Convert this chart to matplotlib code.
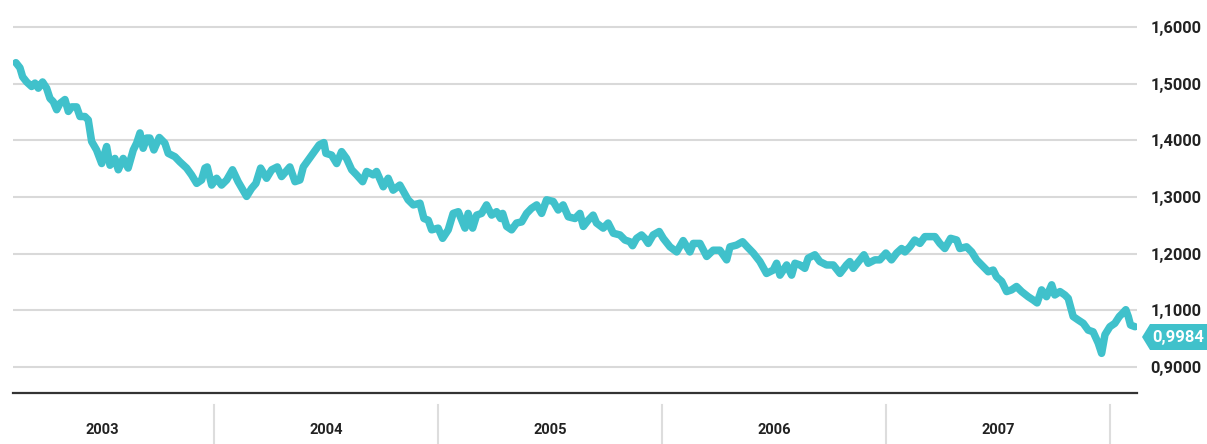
import matplotlib
matplotlib.use("Agg")
import matplotlib.pyplot as plt
from matplotlib.patches import Polygon
import numpy as np

# decimal year offsets from 2003 and rate values
t = [0.116, 0.134, 0.146, 0.164, 0.186, 0.201, 0.216, 0.235, 0.253, 0.268,
     0.283, 0.298, 0.3125, 0.335, 0.350, 0.365, 0.387, 0.402, 0.424, 0.439,
     0.454, 0.476, 0.499, 0.521, 0.536, 0.558, 0.573, 0.595, 0.617, 0.640,
     0.655, 0.670, 0.684, 0.700, 0.714, 0.732, 0.756, 0.781, 0.796, 0.826,
     0.848, 0.878, 0.900, 0.923, 0.945, 0.960, 0.970, 0.990, 1.012, 1.034,
     1.057, 1.083, 1.108, 1.146, 1.168, 1.1875, 1.2085, 1.235, 1.258, 1.283,
     1.302, 1.339, 1.362, 1.384, 1.399, 1.421, 1.443, 1.470, 1.491, 1.500,
     1.525, 1.548, 1.570, 1.592, 1.615, 1.637, 1.664, 1.682, 1.711, 1.726,
     1.756, 1.778, 1.800, 1.830, 1.867, 1.890, 1.920, 1.9375, 1.957, 1.972,
     2.001, 2.021, 2.046, 2.068, 2.091, 2.121, 2.135, 2.155, 2.173, 2.195,
     2.217, 2.240, 2.262, 2.280, 2.289, 2.307, 2.329, 2.351, 2.374, 2.396,
     2.418, 2.441, 2.463, 2.485, 2.515, 2.537, 2.559, 2.582, 2.612, 2.634,
     2.649, 2.671, 2.693, 2.708, 2.738, 2.760, 2.783, 2.8125, 2.835, 2.857,
     2.869, 2.887, 2.909, 2.924, 2.939, 2.961, 2.988, 3.006, 3.036, 3.066,
     3.095, 3.125, 3.140, 3.170, 3.200, 3.229, 3.259, 3.289, 3.304, 3.333,
     3.360, 3.381, 3.408, 3.4375, 3.467, 3.497, 3.512, 3.527, 3.557, 3.579,
     3.594, 3.616, 3.638, 3.653, 3.683, 3.705, 3.735, 3.765, 3.795, 3.824,
     3.839, 3.854, 3.884, 3.902, 3.921, 3.951, 3.973, 4.000, 4.025, 4.048,
     4.070, 4.085, 4.107, 4.129, 4.152, 4.174, 4.196, 4.219, 4.241, 4.263,
     4.289, 4.316, 4.330, 4.360, 4.383, 4.405, 4.427, 4.457, 4.479, 4.494,
     4.517, 4.539, 4.561, 4.583, 4.606, 4.635, 4.658, 4.675, 4.695, 4.717,
     4.740, 4.754, 4.777, 4.799, 4.814, 4.836, 4.858, 4.881, 4.903, 4.925,
     4.948, 4.963, 4.978, 5.000, 5.022, 5.042, 5.057, 5.071, 5.082, 5.092,
     5.112]
rate = [1.537, 1.528, 1.512, 1.503, 1.495, 1.501, 1.492, 1.503, 1.492, 1.474,
        1.468, 1.454, 1.465, 1.472, 1.451, 1.459, 1.459, 1.442, 1.442, 1.436,
        1.398, 1.383, 1.359, 1.389, 1.356, 1.368, 1.348, 1.368, 1.351, 1.383,
        1.395, 1.413, 1.386, 1.404, 1.404, 1.383, 1.405, 1.395, 1.377, 1.371,
        1.362, 1.351, 1.339, 1.324, 1.330, 1.351, 1.353, 1.321, 1.333, 1.321,
        1.330, 1.348, 1.327, 1.301, 1.315, 1.324, 1.351, 1.333, 1.348, 1.353,
        1.336, 1.353, 1.327, 1.330, 1.353, 1.365, 1.377, 1.392, 1.396, 1.377,
        1.374, 1.359, 1.380, 1.368, 1.348, 1.339, 1.327, 1.345, 1.339, 1.345,
        1.318, 1.333, 1.312, 1.321, 1.295, 1.286, 1.289, 1.262, 1.259, 1.242,
        1.245, 1.227, 1.242, 1.271, 1.274, 1.245, 1.271, 1.245, 1.268, 1.271,
        1.286, 1.268, 1.274, 1.262, 1.271, 1.248, 1.242, 1.254, 1.256, 1.271,
        1.280, 1.286, 1.271, 1.295, 1.292, 1.277, 1.286, 1.265, 1.262, 1.271,
        1.248, 1.259, 1.268, 1.254, 1.245, 1.254, 1.236, 1.233, 1.224, 1.221,
        1.214, 1.227, 1.233, 1.227, 1.218, 1.233, 1.239, 1.227, 1.212, 1.203,
        1.223, 1.203, 1.218, 1.218, 1.195, 1.206, 1.206, 1.189, 1.212, 1.215,
        1.221, 1.212, 1.201, 1.186, 1.165, 1.171, 1.183, 1.162, 1.180, 1.162,
        1.183, 1.180, 1.174, 1.192, 1.198, 1.186, 1.180, 1.180, 1.165, 1.180,
        1.186, 1.174, 1.189, 1.198, 1.183, 1.189, 1.189, 1.201, 1.189, 1.201,
        1.209, 1.203, 1.212, 1.224, 1.218, 1.230, 1.230, 1.230, 1.218, 1.209,
        1.227, 1.224, 1.209, 1.212, 1.203, 1.189, 1.180, 1.168, 1.171, 1.159,
        1.151, 1.133, 1.136, 1.142, 1.133, 1.124, 1.118, 1.113, 1.136, 1.124,
        1.145, 1.127, 1.133, 1.127, 1.121, 1.089, 1.083, 1.077, 1.065, 1.062,
        1.042, 1.024, 1.057, 1.071, 1.077, 1.089, 1.095, 1.101, 1.089, 1.074,
        1.071]
years = ["2003", "2004", "2005", "2006", "2007"]
tick_vals = [1.0, 1.1, 1.2, 1.3, 1.4, 1.5, 1.6]
tick_labels = ["0,9000", "1,1000", "1,2000", "1,3000", "1,4000", "1,5000", "1,6000"]
last_label = "0,9984"

teal = "#40c1cb"
dark = "#222222"
W, H = 1207, 444

fig = plt.figure(figsize=(W / 100, H / 100), dpi=100)
ax = fig.add_axes([13 / W, 1 - 393 / H, (1137 - 13) / W, (393 - 10) / H])

x = 2003 + np.array(t)
ax.plot(x, rate, color=teal, lw=5.4, solid_joinstyle="round",
        solid_capstyle="round", zorder=3)

ax.set_xlim(2003.103, 2008.121)
ax.set_ylim(0.954, 1.630)
ax.set_yticks(tick_vals)
ax.set_yticklabels(tick_labels)
ax.yaxis.tick_right()
ax.tick_params(axis="y", length=0, pad=9.5, labelsize=11.8, labelcolor=dark)
for lab in ax.get_yticklabels():
    lab.set_fontweight("bold")
    lab.set_fontfamily("Roboto")
ax.set_xticks([])
ax.grid(axis="y", color="#d9d9d9", lw=1.5)
ax.set_axisbelow(True)
for s in ["top", "left", "right"]:
    ax.spines[s].set_visible(False)
ax.spines["bottom"].set_color("#333333")
ax.spines["bottom"].set_linewidth(1.6)

# year bands below the axis
trans = ax.get_xaxis_transform()
for i, yr in enumerate(years):
    ax.text(int(yr) + 0.5, -0.097, yr, transform=trans, ha="center", va="center",
            fontsize=10.5, fontweight="bold", family="Roboto", color=dark,
            clip_on=False)
    ax.plot([int(yr) + 1, int(yr) + 1], [-0.031, -0.14], transform=trans,
            color="#dddddd", lw=1.5, clip_on=False)

# last-value badge
by = 1 - 337 / H
bh = 13 / H
poly = Polygon([[1142 / W, by], [1150 / W, by + bh], [1.0, by + bh],
                [1.0, by - bh], [1150 / W, by - bh]], closed=True,
               transform=fig.transFigure, facecolor=teal, edgecolor="none")
fig.add_artist(poly)
fig.text(1178 / W, by, last_label, ha="center", va="center", color="white",
         fontsize=12, fontweight="bold", family="Roboto")

fig.savefig("out.png", dpi=100)
